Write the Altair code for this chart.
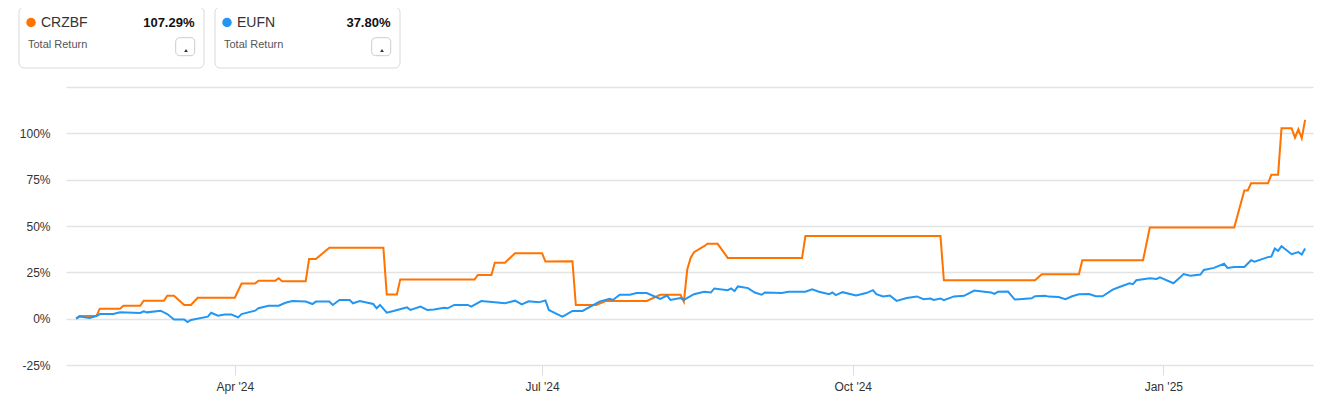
import altair as alt
import pandas as pd

# ---------------- data ----------------
crzbf_dates = [
    "2024-02-14", "2024-02-15", "2024-02-20", "2024-02-21", "2024-02-27", "2024-02-28",
    "2024-03-04", "2024-03-05", "2024-03-11", "2024-03-12", "2024-03-14", "2024-03-17",
    "2024-03-19", "2024-03-21", "2024-04-01", "2024-04-03", "2024-04-07", "2024-04-08",
    "2024-04-13", "2024-04-14", "2024-04-15", "2024-04-22", "2024-04-23", "2024-04-25",
    "2024-04-29", "2024-05-15", "2024-05-16", "2024-05-19", "2024-05-20", "2024-06-11",
    "2024-06-12", "2024-06-16", "2024-06-17", "2024-06-20", "2024-06-23", "2024-07-01",
    "2024-07-02", "2024-07-10", "2024-07-11", "2024-07-17", "2024-07-20", "2024-08-01",
    "2024-08-05", "2024-08-11", "2024-08-12", "2024-08-13", "2024-08-14", "2024-08-15",
    "2024-08-18", "2024-08-19", "2024-08-22", "2024-08-25", "2024-09-16", "2024-09-17",
    "2024-10-27", "2024-10-28", "2024-11-24", "2024-11-26", "2024-12-07", "2024-12-08",
    "2024-12-26", "2024-12-28", "2025-01-22", "2025-01-25", "2025-01-26", "2025-01-27",
    "2025-02-01", "2025-02-02", "2025-02-04", "2025-02-05", "2025-02-08", "2025-02-09",
    "2025-02-10", "2025-02-11", "2025-02-12",
]
crzbf_values = [
    0.0, 1.4, 1.4, 5.4, 5.4, 7.0,
    7.0, 9.7, 9.7, 12.4, 12.4, 7.4,
    7.4, 11.3, 11.3, 19.0, 19.0, 20.5,
    20.5, 21.8, 20.2, 20.2, 32.2, 32.2,
    38.3, 38.3, 13.1, 13.1, 21.2, 21.2,
    23.6, 23.6, 30.2, 30.2, 35.3, 35.3,
    30.8, 31.0, 7.4, 7.4, 9.6, 9.6,
    12.9, 12.9, 9.2, 26.5, 32.8, 35.9,
    39.1, 40.4, 40.4, 32.8, 32.8, 44.6,
    44.6, 20.7, 20.7, 24.0, 24.0, 31.5,
    31.5, 49.2, 49.2, 69.2, 69.2, 73.0,
    73.0, 77.7, 77.7, 102.7, 102.7, 97.7,
    102.2, 97.3, 107.29,
]

eufn_dates = [
    "2024-02-14", "2024-02-15", "2024-02-18", "2024-02-20", "2024-02-21", "2024-02-25",
    "2024-02-27", "2024-03-04", "2024-03-05", "2024-03-06", "2024-03-10", "2024-03-12",
    "2024-03-14", "2024-03-17", "2024-03-18", "2024-03-19", "2024-03-24", "2024-03-25",
    "2024-03-27", "2024-03-29", "2024-03-31", "2024-04-02", "2024-04-03", "2024-04-07",
    "2024-04-08", "2024-04-11", "2024-04-14", "2024-04-16", "2024-04-18", "2024-04-22",
    "2024-04-24", "2024-04-25", "2024-04-29", "2024-04-30", "2024-05-02", "2024-05-05",
    "2024-05-06", "2024-05-08", "2024-05-12", "2024-05-13", "2024-05-14", "2024-05-16",
    "2024-05-18", "2024-05-21", "2024-05-22", "2024-05-23", "2024-05-26", "2024-05-28",
    "2024-05-30", "2024-06-02", "2024-06-03", "2024-06-05", "2024-06-09", "2024-06-10",
    "2024-06-13", "2024-06-17", "2024-06-20", "2024-06-23", "2024-06-25", "2024-06-27",
    "2024-06-30", "2024-07-02", "2024-07-03", "2024-07-05", "2024-07-07", "2024-07-08",
    "2024-07-10", "2024-07-13", "2024-07-18", "2024-07-21", "2024-07-22", "2024-07-24",
    "2024-07-27", "2024-07-29", "2024-08-01", "2024-08-05", "2024-08-07", "2024-08-08",
    "2024-08-11", "2024-08-12", "2024-08-15", "2024-08-18", "2024-08-20", "2024-08-21",
    "2024-08-25", "2024-08-26", "2024-08-27", "2024-08-28", "2024-08-31", "2024-09-02",
    "2024-09-04", "2024-09-05", "2024-09-10", "2024-09-12", "2024-09-17", "2024-09-19",
    "2024-09-21", "2024-09-24", "2024-09-25", "2024-09-26", "2024-09-28", "2024-10-02",
    "2024-10-05", "2024-10-07", "2024-10-08", "2024-10-10", "2024-10-12", "2024-10-14",
    "2024-10-17", "2024-10-20", "2024-10-22", "2024-10-24", "2024-10-25", "2024-10-27",
    "2024-10-28", "2024-10-31", "2024-11-03", "2024-11-06", "2024-11-09", "2024-11-11",
    "2024-11-12", "2024-11-13", "2024-11-16", "2024-11-18", "2024-11-23", "2024-11-24",
    "2024-11-27", "2024-11-28", "2024-12-01", "2024-12-03", "2024-12-05", "2024-12-07",
    "2024-12-10", "2024-12-12", "2024-12-14", "2024-12-17", "2024-12-19", "2024-12-22",
    "2024-12-23", "2024-12-24", "2024-12-28", "2024-12-30", "2024-12-31", "2025-01-04",
    "2025-01-06", "2025-01-07", "2025-01-09", "2025-01-12", "2025-01-13", "2025-01-16",
    "2025-01-19", "2025-01-20", "2025-01-22", "2025-01-25", "2025-01-27", "2025-01-28",
    "2025-02-01", "2025-02-02", "2025-02-03", "2025-02-04", "2025-02-05", "2025-02-08",
    "2025-02-10", "2025-02-11", "2025-02-12",
]
eufn_values = [
    0.0, 1.1, 0.4, 1.4, 2.5, 2.5,
    3.4, 3.1, 4.0, 3.4, 4.3, 2.5,
    -0.4, -0.4, -1.8, -0.7, 1.1, 3.2,
    1.6, 2.2, 2.2, 0.7, 2.5, 4.3,
    5.6, 7.0, 7.0, 8.6, 9.5, 9.2,
    7.9, 9.2, 9.2, 7.4, 10.1, 10.1,
    8.3, 9.5, 7.9, 5.6, 7.4, 3.2,
    4.1, 5.6, 6.1, 4.7, 6.5, 4.7,
    5.0, 5.9, 5.6, 7.4, 7.4, 6.5,
    9.5, 8.8, 8.3, 9.7, 7.7, 9.4,
    8.8, 9.8, 4.7, 2.9, 1.1, 2.0,
    4.2, 4.2, 9.2, 10.7, 10.1, 12.9,
    12.9, 13.8, 13.8, 10.7, 12.5, 10.1,
    11.1, 10.1, 13.2, 14.5, 14.1, 16.3,
    15.4, 16.3, 14.9, 17.4, 16.5, 14.1,
    12.9, 14.1, 13.8, 14.5, 14.5, 15.9,
    14.5, 13.2, 14.1, 12.7, 14.3, 12.5,
    13.8, 15.4, 13.2, 12.0, 12.5, 9.6,
    11.1, 12.0, 10.5, 10.9, 10.1, 10.9,
    10.0, 12.0, 12.3, 15.2, 14.5, 14.1,
    13.4, 14.5, 14.6, 10.3, 11.0, 12.1,
    12.3, 11.9, 11.7, 10.5, 12.1, 13.2,
    13.3, 12.1, 12.1, 15.7, 17.1, 19.1,
    18.6, 20.7, 21.8, 21.4, 22.3, 19.1,
    22.3, 24.1, 23.2, 23.8, 26.3, 27.4,
    29.6, 27.4, 27.9, 27.9, 31.5, 30.8,
    33.2, 33.5, 37.8, 36.6, 39.1, 34.8,
    35.9, 34.6, 37.80,
]

tickers = ["CRZBF", "EUFN"]
colors = ["#ff7300", "#2196f3"]
total_returns = ["107.29%", "37.80%"]
subtitle = "Total Return"
y_ticks = [-25, 0, 25, 50, 75, 100, 125]
x_ticks = [(2024, 4, 1), (2024, 7, 1), (2024, 10, 1), (2025, 1, 1)]

FONT = "Liberation Sans"

df_o = pd.DataFrame({"date": crzbf_dates, "ret": crzbf_values, "ticker": tickers[0]})
df_b = pd.DataFrame({"date": eufn_dates, "ret": eufn_values, "ticker": tickers[1]})

x_scale = alt.Scale(
    type="utc",
    domain=[alt.DateTime(year=2024, month=2, date=11, utc=True),
            alt.DateTime(year=2025, month=2, date=14, hours=8, utc=True)],
)
y_scale = alt.Scale(domain=[-25, 125], nice=False)

x_axis = alt.Axis(
    values=[alt.DateTime(year=y, month=m, date=d, utc=True) for (y, m, d) in x_ticks],
    labelExpr="utcFormat(datum.value, \"%b '%y\")",
    grid=False, domain=False, ticks=True, tickSize=10, tickColor="#dedede", tickWidth=1,
    labelPadding=6, labelFontSize=12, labelColor="#333333", labelFont=FONT, title=None,
)
y_axis = alt.Axis(
    values=y_ticks,
    labelExpr="datum.value >= 125 ? '' : datum.value + '%'",
    grid=True, gridColor="#e3e3e3", gridWidth=1.5, domain=False, ticks=False,
    labelPadding=16, labelFontSize=12, labelColor="#333333", labelFont=FONT, title=None,
)

color_scale = alt.Scale(domain=tickers, range=colors)

line_o = alt.Chart(df_o).mark_line(strokeWidth=2).encode(
    x=alt.X("date:T", scale=x_scale, axis=x_axis),
    y=alt.Y("ret:Q", scale=y_scale, axis=y_axis),
    color=alt.Color("ticker:N", scale=color_scale, legend=None),
)
line_b = alt.Chart(df_b).mark_line(strokeWidth=2).encode(
    x=alt.X("date:T", scale=x_scale, axis=x_axis),
    y=alt.Y("ret:Q", scale=y_scale, axis=y_axis),
    color=alt.Color("ticker:N", scale=color_scale, legend=None),
)

one = pd.DataFrame({"k": [0]})


def card(i, dx):
    base = alt.Chart(one)
    rect = base.mark_rect(fill="white", stroke="#dadada", strokeWidth=1, cornerRadius=5).encode(
        x=alt.value(-47 + dx), x2=alt.value(138 + dx), y=alt.value(-80), y2=alt.value(-19))
    dot = base.mark_point(filled=True, shape="circle", size=90, color=colors[i], opacity=1).encode(
        x=alt.value(-35 + dx), y=alt.value(-64.5))
    name = base.mark_text(align="left", baseline="middle", fontSize=14, color="#333333", font=FONT).encode(
        x=alt.value(-25 + dx), y=alt.value(-64.5), text=alt.value(tickers[i]))
    val = base.mark_text(align="right", baseline="middle", fontSize=13, fontWeight="bold",
                         color="#111111", font=FONT).encode(
        x=alt.value(128.5 + dx), y=alt.value(-64.5), text=alt.value(total_returns[i]))
    sub = base.mark_text(align="left", baseline="middle", fontSize=11, color="#555555", font=FONT).encode(
        x=alt.value(-38 + dx), y=alt.value(-42), text=alt.value(subtitle))
    btn = base.mark_rect(fill="white", stroke="#cccccc", strokeWidth=1, cornerRadius=4).encode(
        x=alt.value(109.7 + dx), x2=alt.value(128.7 + dx), y=alt.value(-49.3), y2=alt.value(-31.3))
    caret = base.mark_point(shape="triangle-up", filled=True, size=14, color="#333333", opacity=1).encode(
        x=alt.value(120 + dx), y=alt.value(-36.5))
    return [rect, dot, name, val, sub, btn, caret]


layers = [line_o, line_b] + card(0, 0) + card(1, 196)

chart = alt.layer(*layers).properties(
    width=1247,
    height=278,
    autosize=alt.AutoSizeParams(type="none"),
    padding={"left": 58, "top": 79, "right": 13, "bottom": 40},
).configure(font=FONT).configure_view(stroke=None)

chart.save("out.html", embed_options={"renderer": "svg", "actions": False})
